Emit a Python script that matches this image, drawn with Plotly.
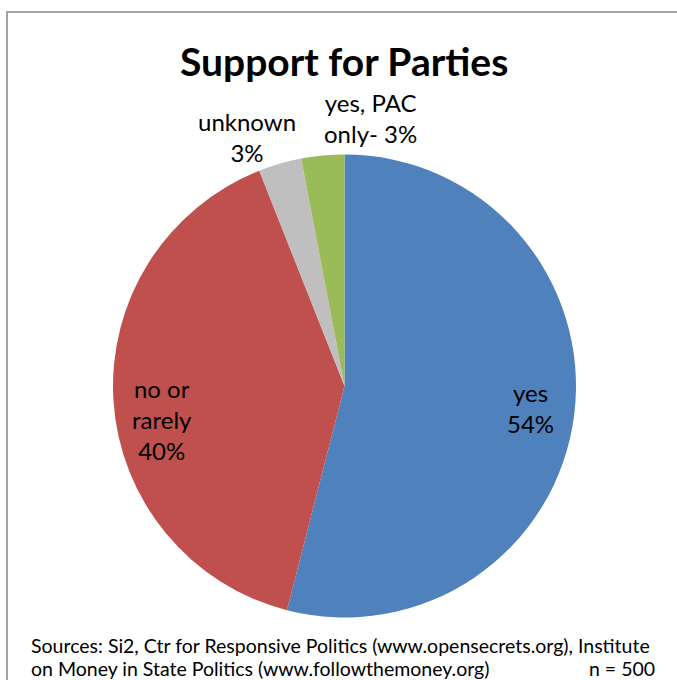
import plotly.graph_objects as go

# Share of respondents by answer (percent)
categories = ["yes", "no or rarely", "unknown", "yes, PAC only"]
shares = [54, 40, 3, 3]
colors = ["#4F81BD", "#C0504D", "#BFBFBF", "#9BBB59"]

# Label text and where each label sits (pixel centres in the 677x680 canvas)
label_lines = ["yes<br>{}%", "no or<br>rarely<br>{}%", "unknown<br>{}%", "yes, PAC<br>only- {}%"]
label_xy = [(530, 408), (162, 419), (247, 137), (370, 118)]

# Zero-width non-joiner keeps Lato from fusing "ti" into a ligature
NJ = "\u200c"
title_text = f"Support for Par{NJ}ties"
source_line1 = f"Sources: Si2, Ctr for Responsive Poli{NJ}tics (www.opensecrets.org), Ins{NJ}titute"
source_line2 = f"on Money in State Poli{NJ}tics (www.followthemoney.org)"
sample_size = "n = 500"

W, H = 677, 680
FONT = "Lato, Calibri, sans-serif"

# Pie circle: centre and radius in pixels
cx, cy, r = 344.5, 386, 231.5

fig = go.Figure(
    go.Pie(
        labels=categories,
        values=shares,
        sort=False,
        direction="clockwise",
        rotation=0,
        marker=dict(colors=colors, line=dict(width=0)),
        textinfo="none",
        hoverinfo="label+percent",
        domain=dict(
            x=[(cx - r) / W, (cx + r) / W],
            y=[(H - cy - r) / H, (H - cy + r) / H],
        ),
        showlegend=False,
    )
)

annotations = []
for tmpl, val, (px, py) in zip(label_lines, shares, label_xy):
    annotations.append(
        dict(
            text=tmpl.format(val),
            x=px / W, y=1 - py / H,
            xref="paper", yref="paper",
            xanchor="center", yanchor="middle",
            showarrow=False,
            font=dict(family=FONT, size=24, color="#000000"),
        )
    )

# Title
annotations.append(
    dict(
        text=f"<b>{title_text}</b>",
        x=344 / W, y=1 - 61 / H,
        xref="paper", yref="paper",
        xanchor="center", yanchor="middle",
        showarrow=False,
        font=dict(family=FONT, size=39, color="#000000"),
    )
)

# Source note
note_font = dict(family=FONT, size=19.5, color="#000000")
annotations.append(
    dict(
        text=source_line1,
        x=29 / W, y=1 - 645 / H,
        xref="paper", yref="paper",
        xanchor="left", yanchor="middle",
        showarrow=False,
        font=note_font,
    )
)
annotations.append(
    dict(
        text=source_line2,
        x=29 / W, y=1 - 668 / H,
        xref="paper", yref="paper",
        xanchor="left", yanchor="middle",
        showarrow=False,
        font=note_font,
    )
)
annotations.append(
    dict(
        text=sample_size,
        x=657 / W, y=1 - 668 / H,
        xref="paper", yref="paper",
        xanchor="right", yanchor="middle",
        showarrow=False,
        font=note_font,
    )
)

fig.update_layout(
    width=W, height=H,
    margin=dict(l=0, r=0, t=0, b=0),
    paper_bgcolor="#FFFFFF",
    plot_bgcolor="#FFFFFF",
    annotations=annotations,
    shapes=[
        dict(
            type="rect",
            xref="paper", yref="paper",
            x0=7 / W, x1=1.05,
            y0=-0.05, y1=1 - 12 / H,
            line=dict(color="#868686", width=1.5),
            fillcolor="rgba(0,0,0,0)",
            layer="below",
        )
    ],
)

fig.write_html("out.html")
